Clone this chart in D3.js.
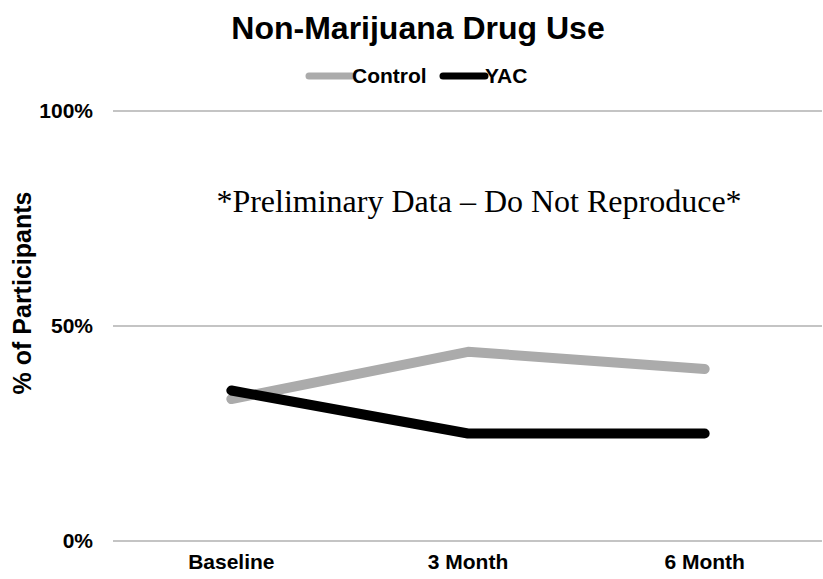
<!DOCTYPE html>
<html>
<head>
<meta charset="utf-8">
<script src="https://cdn.jsdelivr.net/npm/d3@7"></script>
<style>
  html, body { margin: 0; padding: 0; background: #fff; }
  svg { display: block; font-family: "Liberation Sans", Arial, sans-serif; }
</style>
</head>
<body>
<svg id="chart" width="823" height="579"></svg>
<script>
// Chart data
const categories = ["Baseline", "3 Month", "6 Month"];
const controlValues = [33, 44, 40];
const yacValues = [35, 25, 25];
const yTicks = [0, 50, 100];
const seriesNames = ["Control", "YAC"];
const seriesColors = ["#ababab", "#000000"];

const series = [
  { name: seriesNames[0], values: controlValues, color: seriesColors[0] },
  { name: seriesNames[1], values: yacValues, color: seriesColors[1] }
];

const svg = d3.select("#chart");
const margin = { left: 113, right: 0, top: 111, bottom: 38 };
const W = 823, H = 579;

const x = d3.scaleBand().domain(categories).range([margin.left, W - margin.right]);
const y = d3.scaleLinear().domain([0, 100]).range([H - margin.bottom, margin.top]);

// Title
svg.append("text")
  .attr("x", 418).attr("y", 39)
  .attr("text-anchor", "middle")
  .attr("font-size", 32).attr("font-weight", "bold")
  .text("Non-Marijuana Drug Use");

// Legend
const legend = svg.append("g");
const legendItems = [
  { x1: 309, x2: 352, tx: 352 },
  { x1: 443, x2: 485, tx: 485 }
];
series.forEach((s, i) => {
  const it = legendItems[i];
  legend.append("line")
    .attr("x1", it.x1).attr("x2", it.x2)
    .attr("y1", 76).attr("y2", 76)
    .attr("stroke", s.color).attr("stroke-width", 7)
    .attr("stroke-linecap", "round");
  legend.append("text")
    .attr("x", it.tx).attr("y", 83)
    .attr("font-size", 21).attr("font-weight", "bold")
    .text(s.name);
});

// Gridlines
svg.append("g")
  .selectAll("line")
  .data(yTicks)
  .join("line")
  .attr("x1", margin.left).attr("x2", W - 1)
  .attr("y1", d => y(d)).attr("y2", d => y(d))
  .attr("stroke", "#c4c4c4").attr("stroke-width", 2);

// Y axis labels
const yAxis = d3.axisLeft(y).tickValues(yTicks).tickFormat(d => d + "%").tickSize(0).tickPadding(0);
const yg = svg.append("g").attr("transform", "translate(93,0)").call(yAxis);
yg.select(".domain").remove();
yg.selectAll("text")
  .attr("font-size", 21).attr("font-weight", "bold")
  .attr("font-family", "Liberation Sans, Arial, sans-serif")
  .attr("fill", "#000");

// X axis labels
const xAxis = d3.axisBottom(x).tickSize(0).tickPadding(0);
const xg = svg.append("g").attr("transform", "translate(0,554)").call(xAxis);
xg.select(".domain").remove();
xg.selectAll("text")
  .attr("font-size", 21).attr("font-weight", "bold")
  .attr("font-family", "Liberation Sans, Arial, sans-serif")
  .attr("fill", "#000");

// Y axis title
svg.append("text")
  .attr("transform", "translate(31,293) rotate(-90)")
  .attr("text-anchor", "middle")
  .attr("font-size", 25).attr("font-weight", "bold")
  .text("% of Participants");

// Watermark note
svg.append("text")
  .attr("x", 479).attr("y", 212)
  .attr("text-anchor", "middle")
  .attr("font-family", "Liberation Serif, 'Times New Roman', serif")
  .attr("font-size", 32)
  .text("*Preliminary Data \u2013 Do Not Reproduce*");

// Series lines
const line = d3.line()
  .x((d, i) => x(categories[i]) + x.bandwidth() / 2)
  .y(d => y(d));

svg.append("g")
  .selectAll("path")
  .data(series)
  .join("path")
  .attr("d", s => line(s.values))
  .attr("fill", "none")
  .attr("stroke", s => s.color)
  .attr("stroke-width", 10)
  .attr("stroke-linecap", "round")
  .attr("stroke-linejoin", "round");
</script>
</body>
</html>
